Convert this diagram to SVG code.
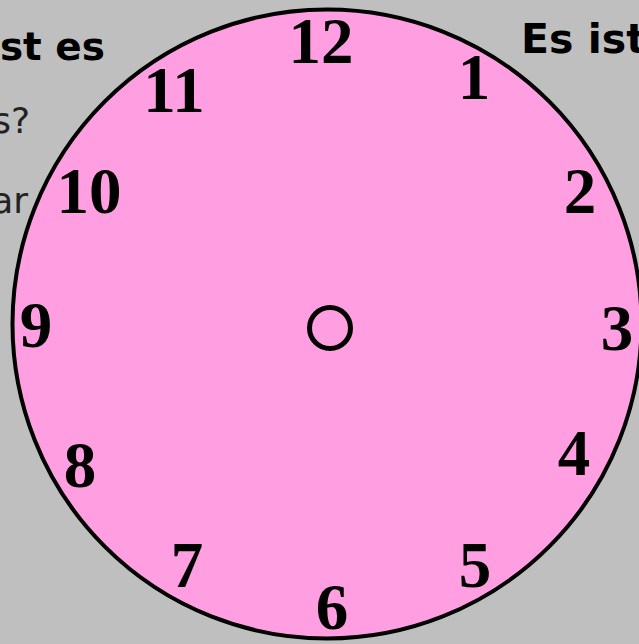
<svg xmlns="http://www.w3.org/2000/svg" width="639" height="644" viewBox="0 0 639 644">
<style>
.num{font-family:"Liberation Serif","Times New Roman",serif;font-weight:bold;font-size:65px;fill:#000;text-anchor:middle}
.hd{font-family:"DejaVu Sans","Liberation Sans",sans-serif;fill:#000}
.sub{font-family:"DejaVu Sans","Liberation Sans",sans-serif;fill:#222;font-size:36px;text-anchor:end}
</style>
<rect width="639" height="644" fill="#bfbfbf"/>
<g id="side-text">
<text class="hd" x="105" y="60" font-size="39" font-weight="bold" text-anchor="end">st es</text>
<text class="sub" x="30" y="133">s?</text>
<text class="sub" x="28" y="213">ar</text>
<text class="hd" x="521" y="53" font-size="41" font-weight="bold">Es ist</text>
</g>
<g id="clock-face">
<circle cx="327" cy="324" r="314.5" fill="#ff9ee0" stroke="#000" stroke-width="4"/>
<circle cx="330" cy="328" r="20.5" fill="none" stroke="#000" stroke-width="5"/>
</g>
<g id="numbers">
<text class="num" x="321" y="63">12</text>
<text class="num" x="474" y="99">1</text>
<text class="num" x="580" y="213">2</text>
<text class="num" x="617" y="350">3</text>
<text class="num" x="574" y="475">4</text>
<text class="num" x="475" y="587">5</text>
<text class="num" x="332" y="629">6</text>
<text class="num" x="187" y="587">7</text>
<text class="num" x="80" y="487">8</text>
<text class="num" x="36" y="347">9</text>
<text class="num" x="89" y="213">10</text>
<text class="num" x="174" y="112">11</text>
</g>
</svg>
